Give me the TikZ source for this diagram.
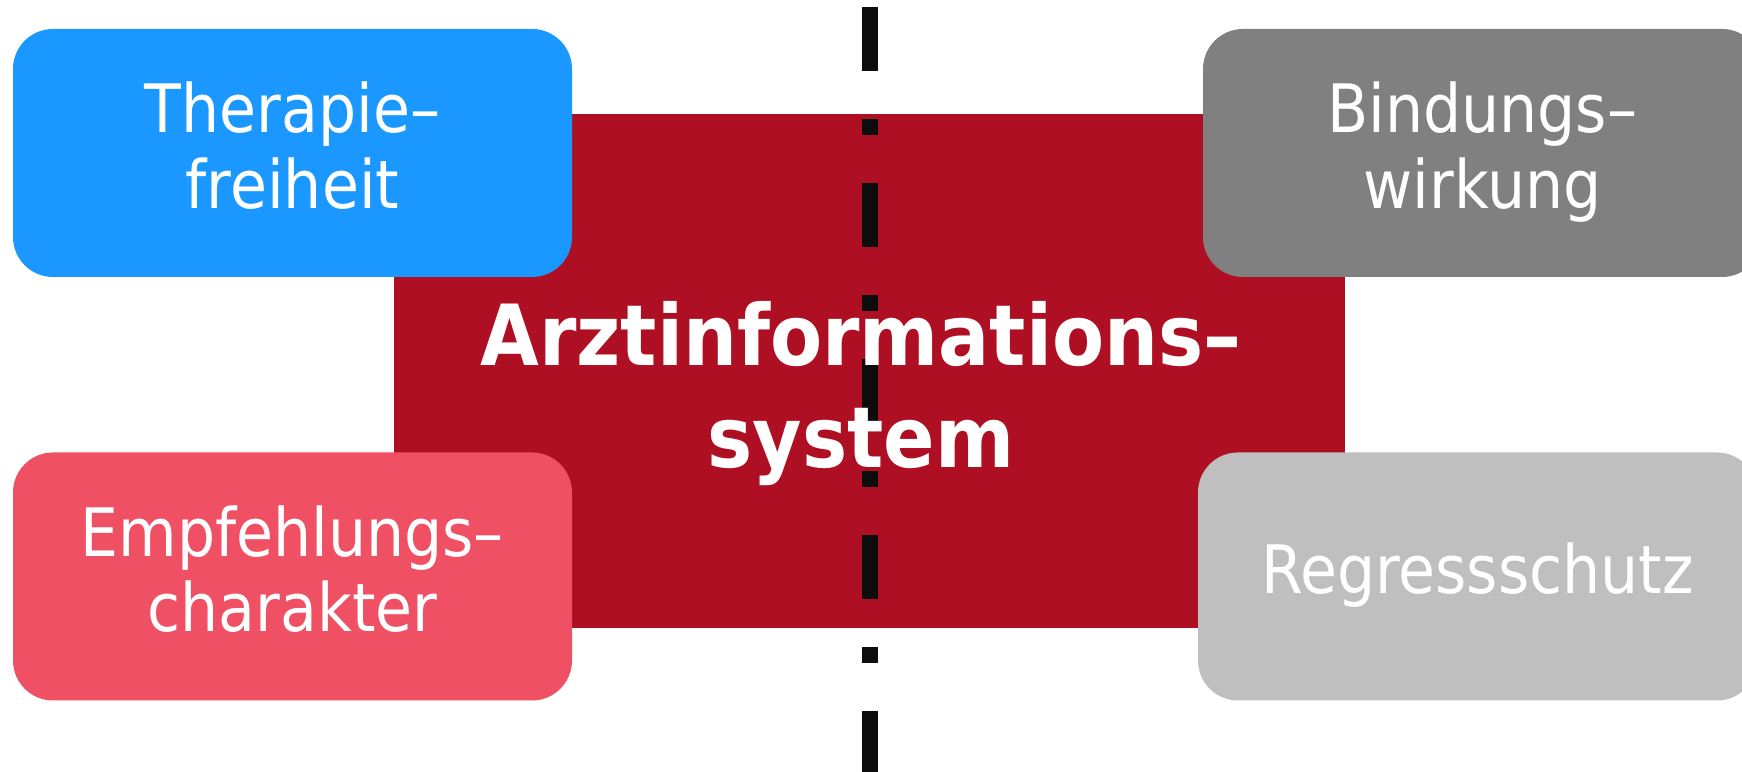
\documentclass[tikz,border=0pt]{standalone}
\usepackage{fontspec}
\setmainfont{DejaVu Sans Condensed}
\definecolor{aisred}{RGB}{175,15,34}
\definecolor{tblue}{RGB}{27,152,255}
\definecolor{tpink}{RGB}{240,80,99}
\definecolor{tdark}{RGB}{128,128,128}
\definecolor{tlight}{RGB}{191,191,191}
\tikzset{
  tile/.style={fill=#1, rounded corners=.4cm, minimum width=5.59cm, minimum height=2.48cm, inner sep=0pt},
  tiletext/.style={text=white, align=center, inner sep=0pt, text depth=0pt, font=\fontsize{19}{21.5}\selectfont},
}
\begin{document}
\begin{tikzpicture}
\useasboundingbox (0,0) rectangle (17.42,7.72);
\clip (0,0) rectangle (17.42,7.72);
% Mitte
\node[fill=aisred, minimum width=9.51cm, minimum height=5.14cm, inner sep=0pt] (ais) at (8.695,4.01) {};
\coordinate (linetop) at (8.70,7.646);
\coordinate (linebottom) at (8.70,0);
\draw[line width=.16cm, black!95, dash pattern=on .64cm off .475cm on .165cm off .48cm] (linetop) -- (linebottom);
\node[text=white, align=center, inner sep=0pt, font=\bfseries\fontsize{24}{29}\selectfont] (aistext) at (8.61,3.78) {Arztinformations–\\system};

% Kacheln
\node[tile=tblue] (therapie) at (2.925,6.19) {};
\node[tile=tdark] (bindung) at (14.825,6.19) {};
\node[tile=tpink] (empfehlung) at (2.925,1.955) {};
\node[tile=tlight] (regress) at (14.775,1.955) {};

\node[tiletext] (therapietext) at ([yshift=.08cm]therapie.center) {Therapie–\\freiheit};
\node[tiletext] (bindungtext) at ([yshift=.08cm]bindung.center) {Bindungs–\\wirkung};
\node[tiletext] (empfehlungtext) at ([yshift=.08cm]empfehlung.center) {Empfehlungs–\\charakter};
\node[tiletext] (regresstext) at ([yshift=.08cm]regress.center) {Regressschutz};
\end{tikzpicture}
\end{document}
